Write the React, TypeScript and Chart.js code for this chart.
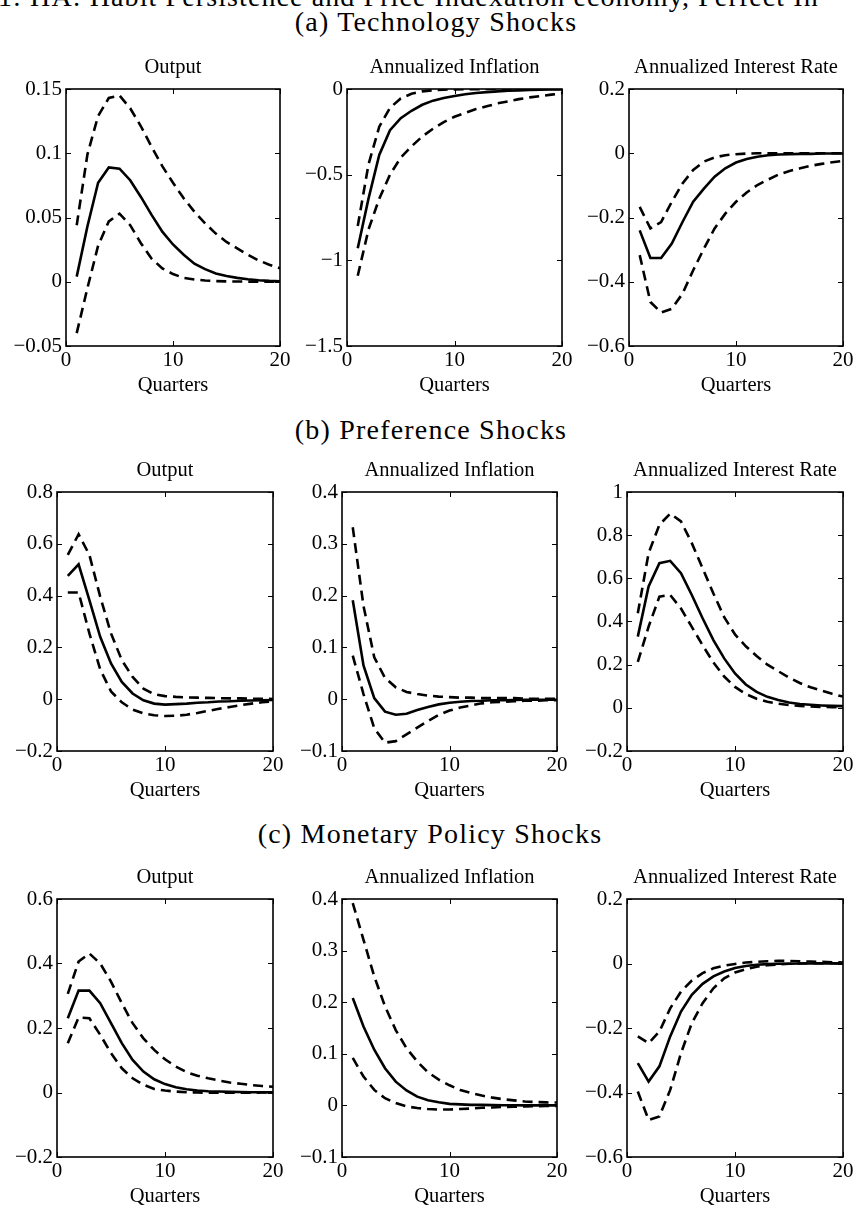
import React, { useEffect, useRef } from "react";
import { Chart, registerables } from "chart.js";

Chart.register(...registerables);

// ---------------- data ----------------
const QUARTERS = [1, 2, 3, 4, 5, 6, 7, 8, 9, 10, 11, 12, 13, 14, 15, 16, 17, 18, 19, 20];
const X_TICKS = [0, 10, 20];

const PANEL_TITLES = ["Output", "Annualized Inflation", "Annualized Interest Rate"];
const SECTION_TITLES = ["(a) Technology Shocks", "(b) Preference Shocks", "(c) Monetary Policy Shocks"];
const TOP_LINE = "1: HA: Habit Persistence and Price Indexation economy, Perfect In";
const X_TITLE = "Quarters";

// (a) Technology shocks
const TECH_Y_MID = [0.004, 0.043, 0.077, 0.089, 0.088, 0.079, 0.066, 0.052, 0.039, 0.029, 0.021, 0.014, 0.0098, 0.0064, 0.0044, 0.003, 0.002, 0.0012, 0.0007, 0.0004];
const TECH_Y_UP = [0.044, 0.099, 0.129, 0.143, 0.145, 0.135, 0.121, 0.105, 0.09, 0.077, 0.065, 0.0545, 0.0455, 0.0375, 0.031, 0.026, 0.021, 0.0166, 0.0133, 0.0105];
const TECH_Y_LO = [-0.04, -0.005, 0.028, 0.047, 0.053, 0.044, 0.03, 0.018, 0.0104, 0.006, 0.003, 0.0018, 0.001, 0.0005, 0.0003, 0.0002, 0.0001, 0, 0, 0];
const TECH_Y_TICKS = [-0.05, 0, 0.05, 0.1, 0.15];

const TECH_PI_MID = [-0.93, -0.64, -0.385, -0.24, -0.17, -0.127, -0.092, -0.068, -0.053, -0.041, -0.031, -0.023, -0.018, -0.014, -0.01, -0.008, -0.006, -0.004, -0.003, -0.002];
const TECH_PI_UP = [-0.8, -0.44, -0.22, -0.11, -0.055, -0.028, -0.014, -0.007, -0.004, -0.002, -0.001, -0.001, 0, 0, 0, 0, 0, 0, 0, 0];
const TECH_PI_LO = [-1.09, -0.82, -0.64, -0.5, -0.4, -0.335, -0.277, -0.232, -0.193, -0.162, -0.14, -0.117, -0.101, -0.084, -0.072, -0.059, -0.049, -0.041, -0.033, -0.025];
const TECH_PI_TICKS = [-1.5, -1, -0.5, 0];

const TECH_R_MID = [-0.24, -0.326, -0.326, -0.281, -0.214, -0.151, -0.11, -0.073, -0.047, -0.029, -0.018, -0.011, -0.006, -0.004, -0.003, -0.002, -0.002, -0.001, -0.001, -0.001];
const TECH_R_UP = [-0.167, -0.234, -0.214, -0.151, -0.094, -0.052, -0.026, -0.013, -0.006, -0.003, -0.001, 0, 0, 0, 0, 0, 0, 0, 0, 0];
const TECH_R_LO = [-0.317, -0.463, -0.496, -0.484, -0.437, -0.364, -0.297, -0.234, -0.188, -0.151, -0.122, -0.099, -0.082, -0.066, -0.055, -0.047, -0.039, -0.033, -0.028, -0.024];
const TECH_R_TICKS = [-0.6, -0.4, -0.2, 0, 0.2];

// (b) Preference shocks
const PREF_Y_MID = [0.476, 0.521, 0.383, 0.241, 0.138, 0.067, 0.022, -0.004, -0.017, -0.021, -0.019, -0.017, -0.014, -0.012, -0.009, -0.008, -0.006, -0.005, -0.004, -0.003];
const PREF_Y_UP = [0.557, 0.637, 0.557, 0.396, 0.254, 0.151, 0.086, 0.041, 0.019, 0.012, 0.009, 0.007, 0.006, 0.005, 0.004, 0.003, 0.003, 0.002, 0.002, 0.001];
const PREF_Y_LO = [0.412, 0.412, 0.254, 0.115, 0.03, -0.012, -0.04, -0.055, -0.062, -0.065, -0.064, -0.06, -0.053, -0.045, -0.037, -0.03, -0.023, -0.017, -0.012, -0.008];
const PREF_Y_TICKS = [-0.2, 0, 0.2, 0.4, 0.6, 0.8];

const PREF_PI_MID = [0.191, 0.065, 0.002, -0.024, -0.03, -0.028, -0.021, -0.015, -0.01, -0.007, -0.005, -0.0035, -0.003, -0.002, -0.002, -0.0015, -0.001, -0.001, -0.001, -0.001];
const PREF_PI_UP = [0.332, 0.18, 0.081, 0.041, 0.023, 0.014, 0.01, 0.007, 0.005, 0.004, 0.003, 0.003, 0.002, 0.002, 0.002, 0.002, 0.001, 0.001, 0.001, 0.001];
const PREF_PI_LO = [0.084, 0.01, -0.056, -0.084, -0.081, -0.068, -0.055, -0.042, -0.03, -0.022, -0.016, -0.012, -0.008, -0.006, -0.005, -0.004, -0.003, -0.003, -0.002, -0.002];
const PREF_PI_TICKS = [-0.1, 0, 0.1, 0.2, 0.3, 0.4];

const PREF_R_MID = [0.33, 0.562, 0.67, 0.681, 0.624, 0.523, 0.415, 0.314, 0.229, 0.159, 0.108, 0.074, 0.051, 0.036, 0.025, 0.018, 0.014, 0.011, 0.009, 0.008];
const PREF_R_UP = [0.438, 0.717, 0.848, 0.9, 0.864, 0.763, 0.647, 0.53, 0.42, 0.34, 0.285, 0.24, 0.2, 0.17, 0.14, 0.115, 0.095, 0.08, 0.065, 0.052];
const PREF_R_LO = [0.213, 0.376, 0.515, 0.523, 0.46, 0.375, 0.29, 0.21, 0.145, 0.097, 0.064, 0.042, 0.028, 0.019, 0.013, 0.009, 0.006, 0.004, 0.003, 0.002];
const PREF_R_TICKS = [-0.2, 0, 0.2, 0.4, 0.6, 0.8, 1];

// (c) Monetary policy shocks
const MON_Y_MID = [0.23, 0.316, 0.316, 0.277, 0.215, 0.153, 0.101, 0.065, 0.041, 0.026, 0.0165, 0.0103, 0.006, 0.004, 0.003, 0.002, 0.0015, 0.001, 0.0007, 0.0005];
const MON_Y_UP = [0.306, 0.406, 0.431, 0.4, 0.344, 0.277, 0.215, 0.168, 0.132, 0.103, 0.0805, 0.063, 0.052, 0.044, 0.037, 0.031, 0.027, 0.023, 0.02, 0.018];
const MON_Y_LO = [0.153, 0.233, 0.23, 0.179, 0.122, 0.075, 0.044, 0.024, 0.011, 0.006, 0.003, 0.001, 0, -0.001, -0.001, -0.001, -0.001, -0.001, 0, 0];
const MON_Y_TICKS = [-0.2, 0, 0.2, 0.4, 0.6];

const MON_PI_MID = [0.208, 0.153, 0.108, 0.072, 0.046, 0.029, 0.017, 0.01, 0.006, 0.003, 0.002, 0.001, 0.001, 0.0005, 0.0003, 0.0002, 0.0001, 0, 0, 0];
const MON_PI_UP = [0.392, 0.321, 0.25, 0.192, 0.146, 0.111, 0.085, 0.064, 0.05, 0.039, 0.03, 0.024, 0.019, 0.015, 0.012, 0.0097, 0.0077, 0.0065, 0.0058, 0.0055];
const MON_PI_LO = [0.092, 0.056, 0.03, 0.014, 0.0045, -0.002, -0.005, -0.007, -0.008, -0.008, -0.007, -0.006, -0.0045, -0.004, -0.003, -0.0025, -0.002, -0.0015, -0.001, -0.001];
const MON_PI_TICKS = [-0.1, 0, 0.1, 0.2, 0.3, 0.4];

const MON_R_MID = [-0.309, -0.366, -0.319, -0.226, -0.149, -0.097, -0.063, -0.04, -0.025, -0.014, -0.0075, -0.004, -0.002, -0.001, -0.001, 0, 0, 0, 0, 0];
const MON_R_UP = [-0.226, -0.247, -0.211, -0.139, -0.087, -0.053, -0.03, -0.015, -0.0065, -0.0013, 0.003, 0.005, 0.007, 0.008, 0.008, 0.007, 0.006, 0.005, 0.004, 0.003];
const MON_R_LO = [-0.397, -0.485, -0.474, -0.392, -0.278, -0.185, -0.123, -0.077, -0.046, -0.028, -0.018, -0.01, -0.005, -0.003, -0.001, 0, 0.001, 0.001, 0.001, 0];
const MON_R_TICKS = [-0.6, -0.4, -0.2, 0, 0.2];

// ---------------- layout ----------------
const FONT = "'Liberation Serif', 'Times New Roman', Times, serif";
const Y_W = 64;
const TITLE_H = 34;
const X_H = 52;
const R_PAD = 16;
const TITLE_SIZE = 20.5;

type Rect = { l: number; t: number; r: number; b: number };
type PanelSpec = { title: string; mid: number[]; up: number[]; lo: number[]; yTicks: number[]; plot: Rect };

const ROW_TB = [
  [89, 346],
  [492, 751],
  [899, 1157],
];
const COL_LR = [
  [[66, 280], [347, 562], [629, 843]],
  [[57, 273], [342, 557], [627, 843]],
  [[57, 273], [342, 557], [627, 843]],
];

const SERIES = [
  [
    [TECH_Y_MID, TECH_Y_UP, TECH_Y_LO, TECH_Y_TICKS],
    [TECH_PI_MID, TECH_PI_UP, TECH_PI_LO, TECH_PI_TICKS],
    [TECH_R_MID, TECH_R_UP, TECH_R_LO, TECH_R_TICKS],
  ],
  [
    [PREF_Y_MID, PREF_Y_UP, PREF_Y_LO, PREF_Y_TICKS],
    [PREF_PI_MID, PREF_PI_UP, PREF_PI_LO, PREF_PI_TICKS],
    [PREF_R_MID, PREF_R_UP, PREF_R_LO, PREF_R_TICKS],
  ],
  [
    [MON_Y_MID, MON_Y_UP, MON_Y_LO, MON_Y_TICKS],
    [MON_PI_MID, MON_PI_UP, MON_PI_LO, MON_PI_TICKS],
    [MON_R_MID, MON_R_UP, MON_R_LO, MON_R_TICKS],
  ],
];

const PANELS: PanelSpec[] = [];
for (let r = 0; r < 3; r++) {
  for (let c = 0; c < 3; c++) {
    const [mid, up, lo, yTicks] = SERIES[r][c];
    PANELS.push({
      title: PANEL_TITLES[c],
      mid,
      up,
      lo,
      yTicks,
      plot: { l: COL_LR[r][c][0], r: COL_LR[r][c][1], t: ROW_TB[r][0], b: ROW_TB[r][1] },
    });
  }
}

const HEADINGS = [
  { text: SECTION_TITLES[0], cx: 436, cy: 25 },
  { text: SECTION_TITLES[1], cx: 431, cy: 433 },
  { text: SECTION_TITLES[2], cx: 430, cy: 837 },
];

function fmt(v: number): string {
  const s = String(Math.round(v * 10000) / 10000);
  return s.replace("-", "\u2212");
}

const boxPlugin = {
  id: "matlabBox",
  afterDatasetsDraw(chart: any) {
    const { ctx, chartArea: a, scales } = chart;
    const tl = 5;
    ctx.save();
    ctx.strokeStyle = "#000";
    ctx.lineWidth = 1;
    ctx.beginPath();
    scales.x.ticks.forEach((t: any) => {
      const px = Math.round(scales.x.getPixelForValue(t.value)) + 0.5;
      ctx.moveTo(px, a.bottom);
      ctx.lineTo(px, a.bottom - tl);
      ctx.moveTo(px, a.top);
      ctx.lineTo(px, a.top + tl);
    });
    scales.y.ticks.forEach((t: any) => {
      const py = Math.round(scales.y.getPixelForValue(t.value)) + 0.5;
      ctx.moveTo(a.left, py);
      ctx.lineTo(a.left + tl, py);
      ctx.moveTo(a.right, py);
      ctx.lineTo(a.right - tl, py);
    });
    ctx.stroke();
    ctx.lineWidth = 1.6;
    ctx.strokeRect(a.left, a.top, a.right - a.left, a.bottom - a.top);
    ctx.restore();
  },
};

function Panel({ spec }: { spec: PanelSpec }) {
  const ref = useRef<HTMLCanvasElement | null>(null);
  const { plot } = spec;
  const w = Y_W + (plot.r - plot.l) + R_PAD;
  const h = TITLE_H + (plot.b - plot.t) + X_H;

  useEffect(() => {
    if (!ref.current) return;
    const mk = (vals: number[]) => vals.map((v, i) => ({ x: QUARTERS[i], y: v }));
    const yT = spec.yTicks;
    const chart = new Chart(ref.current, {
      type: "line",
      data: {
        datasets: [
          { data: mk(spec.up), borderColor: "#000", borderWidth: 2.6, borderDash: [10, 6], pointRadius: 0, tension: 0, fill: false },
          { data: mk(spec.lo), borderColor: "#000", borderWidth: 2.6, borderDash: [10, 6], pointRadius: 0, tension: 0, fill: false },
          { data: mk(spec.mid), borderColor: "#000", borderWidth: 2.6, pointRadius: 0, tension: 0, fill: false },
        ],
      },
      options: {
        responsive: false,
        animation: false,
        devicePixelRatio: 1,
        layout: { padding: { left: 0, top: 0, right: R_PAD, bottom: 0 } },
        plugins: {
          legend: { display: false },
          tooltip: { enabled: false },
          title: {
            display: true,
            fullSize: false,
            text: spec.title,
            color: "#000",
            font: { family: FONT, size: TITLE_SIZE, weight: "normal", lineHeight: 1.2 },
            padding: { top: 0, bottom: TITLE_H - TITLE_SIZE * 1.2 },
          },
        },
        scales: {
          x: {
            type: "linear",
            min: X_TICKS[0],
            max: X_TICKS[X_TICKS.length - 1],
            afterBuildTicks: (s: any) => {
              s.ticks = X_TICKS.map((v) => ({ value: v }));
            },
            afterFit: (s: any) => {
              s.height = X_H;
            },
            grid: { display: false, drawTicks: false },
            border: { display: false },
            ticks: {
              color: "#000",
              padding: 2,
              maxRotation: 0,
              autoSkip: false,
              font: { family: FONT, size: 21, lineHeight: 1.2 },
              callback: (v: any) => fmt(Number(v)),
            },
            title: {
              display: true,
              text: X_TITLE,
              color: "#000",
              font: { family: FONT, size: TITLE_SIZE, lineHeight: 1.2 },
              padding: { top: 0, bottom: 0 },
            },
          },
          y: {
            type: "linear",
            min: yT[0],
            max: yT[yT.length - 1],
            afterBuildTicks: (s: any) => {
              s.ticks = yT.map((v) => ({ value: v }));
            },
            afterFit: (s: any) => {
              s.width = Y_W;
            },
            grid: { display: false, drawTicks: false },
            border: { display: false },
            ticks: {
              color: "#000",
              padding: 4,
              autoSkip: false,
              font: { family: FONT, size: 21, lineHeight: 1.2 },
              callback: (v: any) => fmt(Number(v)),
            },
          },
        },
      },
      plugins: [boxPlugin],
    } as any);
    return () => chart.destroy();
  }, [spec]);

  return (
    <canvas
      ref={ref}
      width={w}
      height={h}
      style={{
        position: "absolute",
        left: plot.l - Y_W,
        top: plot.t - TITLE_H,
        width: w,
        height: h,
      }}
    />
  );
}

export default function App() {
  return (
    <div
      style={{
        position: "absolute",
        left: 0,
        top: 0,
        width: 857,
        height: 1209,
        overflow: "hidden",
        background: "#fff",
        fontFamily: FONT,
        color: "#000",
      }}
    >
      <div
        style={{
          position: "absolute",
          left: -2,
          top: -17,
          whiteSpace: "nowrap",
          fontSize: 28,
          lineHeight: "28px",
          letterSpacing: 1.1,
        }}
      >
        {TOP_LINE}
      </div>
      {HEADINGS.map((hd, i) => (
        <div
          key={i}
          style={{
            position: "absolute",
            left: hd.cx,
            top: hd.cy - 17,
            transform: "translateX(-50%)",
            whiteSpace: "nowrap",
            fontSize: 28,
            lineHeight: "28px",
            letterSpacing: 1.2,
          }}
        >
          {hd.text}
        </div>
      ))}
      {PANELS.map((p, i) => (
        <Panel key={i} spec={p} />
      ))}
    </div>
  );
}
